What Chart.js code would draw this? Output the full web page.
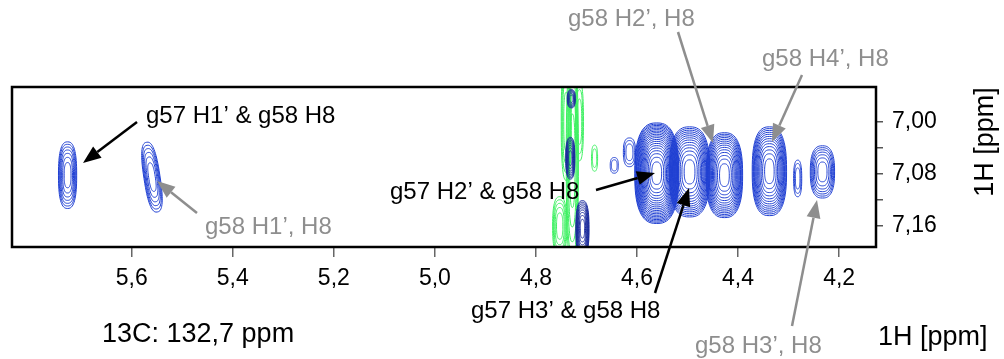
<!DOCTYPE html>
<html>
<head>
<meta charset="utf-8">
<script src="https://cdn.jsdelivr.net/npm/chart.js@4/dist/chart.umd.min.js"></script>
<style>
  html, body { margin: 0; padding: 0; background: #fff; }
</style>
</head>
<body>
<canvas id="hsqc" width="1004" height="359"></canvas>
<script>
// ============================================
// DATA: 1H/1H plane at 13C 132,7 ppm
// ============================================
const peakShiftX = [5.727, 5.560, 4.561, 4.496, 4.427, 4.338, 4.282, 4.233, 4.645, 4.615,
                    4.728, 4.740, 4.753, 4.684, 4.714, 4.730, 4.732, 4.708];
const peakShiftY = [7.082, 7.085, 7.079, 7.077, 7.082, 7.076, 7.087, 7.077, 7.067, 7.047,
                    7.060, 7.000, 7.160, 7.056, 7.000, 6.965, 7.056, 7.164];
const peakWidthX = [0.018, 0.016, 0.0435, 0.040, 0.036, 0.034, 0.008, 0.024, 0.008, 0.012,
                    0.012, 0.010, 0.014, 0.006, 0.008, 0.008, 0.009, 0.013];
const peakWidthY = [0.051, 0.054, 0.077, 0.069, 0.065, 0.068, 0.028, 0.040, 0.012, 0.022,
                    0.160, 0.090, 0.045, 0.020, 0.060, 0.014, 0.032, 0.043];
const peakLevels = [7, 6, 20, 14, 14, 13, 3, 7, 2, 3,
                    5, 4, 5, 2, 3, 6, 8, 9];
const peakTilt   = [0, -0.15, 0, 0, 0, 0, 0, 0, 0, 0,
                    0, 0, 0, 0, 0, 0, 0, 0];
// pos = main spectrum, neg = artefact (green), dense = strong solvent band
const peakKind   = ['pos', 'pos', 'pos', 'pos', 'pos', 'pos', 'pos', 'pos', 'pos', 'pos',
                    'neg', 'neg', 'neg', 'neg', 'neg', 'dense', 'dense', 'dense'];

const xTickValues = [5.6, 5.4, 5.2, 5.0, 4.8, 4.6, 4.4, 4.2];
const yTickValues = [7.00, 7.04, 7.08, 7.12, 7.16];
const yTickLabels = [7.00, 7.08, 7.16];

const xRange = [4.127, 5.837];
const yRange = [6.947, 7.192];

// ============================================
// STYLE
// ============================================
const FONT = "'Liberation Sans', Arial, Helvetica, sans-serif";
const kindColor = { pos: '#1f3fd2', neg: '#3cf060', dense: '#1a2a9c' };
const GREY = '#8e8e8e';
const SQUARENESS = 2.6;   // >2 gives the boxy contour look

// ============================================
// CONTOURS (drawn through the chart scales)
// ============================================
function contourPath(ctx, cx, cy, rx, ry, tilt) {
    const e = 2 / SQUARENESS;
    const c = Math.cos(tilt), s = Math.sin(tilt);
    ctx.beginPath();
    for (let j = 0; j <= 72; j++) {
        const t = (j / 72) * Math.PI * 2;
        const ct = Math.cos(t), st = Math.sin(t);
        const ux = rx * Math.sign(ct) * Math.pow(Math.abs(ct), e);
        const uy = ry * Math.sign(st) * Math.pow(Math.abs(st), e);
        const px = cx + ux * c - uy * s;
        const py = cy + ux * s + uy * c;
        if (j === 0) ctx.moveTo(px, py); else ctx.lineTo(px, py);
    }
    ctx.closePath();
}

const contourPlugin = {
    id: 'contours',
    afterDatasetsDraw(chart) {
        const { ctx, chartArea: a, scales: { x, y } } = chart;
        ctx.save();
        ctx.beginPath();
        ctx.rect(a.left, a.top, a.right - a.left, a.bottom - a.top);
        ctx.clip();
        ctx.lineWidth = 1;

        ['neg', 'pos', 'dense'].forEach(kind => {
            peakShiftX.forEach((px, i) => {
                if (peakKind[i] !== kind) return;
                const cx = x.getPixelForValue(px);
                const cy = y.getPixelForValue(peakShiftY[i]);
                const rx = Math.abs(x.getPixelForValue(px + peakWidthX[i]) - cx);
                const ry = Math.abs(y.getPixelForValue(peakShiftY[i] + peakWidthY[i]) - cy);
                const n = peakLevels[i];
                ctx.strokeStyle = kindColor[kind];
                for (let k = 0; k < n; k++) {
                    const f = Math.sqrt(1 - k / n);
                    contourPath(ctx, cx, cy, Math.max(rx * f, 0.6), Math.max(ry * f, 0.6), peakTilt[i]);
                    ctx.stroke();
                }
            });
        });
        ctx.restore();

        // frame
        ctx.save();
        ctx.strokeStyle = '#000';
        ctx.lineWidth = 2.5;
        ctx.strokeRect(a.left, a.top, a.right - a.left, a.bottom - a.top);
        ctx.restore();
    }
};

// ============================================
// LABELS & ARROWS
// ============================================
const annotations = [
    { text: 'g57 H1\u2019 & g58 H8', x: 146, y: 123, color: '#000', from: [137, 122], to: [83, 163] },
    { text: 'g58 H1\u2019, H8',      x: 205, y: 234, color: GREY,   from: [197, 213], to: [157, 181] },
    { text: 'g57 H2\u2019 & g58 H8', x: 390, y: 199, color: '#000', from: [596, 190], to: [655, 173] },
    { text: 'g57 H3\u2019 & g58 H8', x: 471, y: 318, color: '#000', from: [655, 293], to: [689, 188] },
    { text: 'g58 H2\u2019, H8',      x: 568, y: 26,  color: GREY,   from: [678, 32],  to: [713, 143] },
    { text: 'g58 H4\u2019, H8',      x: 762, y: 66,  color: GREY,   from: [802, 75],  to: [772, 142] },
    { text: 'g58 H3\u2019, H8',      x: 695, y: 353, color: GREY,   from: [792, 326], to: [817, 200] }
];

function drawArrow(ctx, from, to, color) {
    const [x1, y1] = from;
    const [x2, y2] = to;
    const ang = Math.atan2(y2 - y1, x2 - x1);
    const headLen = 18, headHalf = 7;
    const bx = x2 - headLen * Math.cos(ang);
    const by = y2 - headLen * Math.sin(ang);
    ctx.strokeStyle = color;
    ctx.fillStyle = color;
    ctx.lineWidth = 2.5;
    ctx.beginPath();
    ctx.moveTo(x1, y1);
    ctx.lineTo(bx, by);
    ctx.stroke();
    ctx.beginPath();
    ctx.moveTo(x2, y2);
    ctx.lineTo(bx + headHalf * Math.sin(ang), by - headHalf * Math.cos(ang));
    ctx.lineTo(bx - headHalf * Math.sin(ang), by + headHalf * Math.cos(ang));
    ctx.closePath();
    ctx.fill();
}

const labelPlugin = {
    id: 'labels',
    afterDraw(chart) {
        const { ctx } = chart;
        ctx.save();
        ctx.textBaseline = 'alphabetic';
        ctx.textAlign = 'left';

        annotations.forEach(a => {
            drawArrow(ctx, a.from, a.to, a.color);
            ctx.fillStyle = a.color;
            ctx.font = `24px ${FONT}`;
            ctx.fillText(a.text, a.x, a.y);
        });

        ctx.fillStyle = '#000';
        ctx.font = `27px ${FONT}`;
        ctx.fillText('13C: 132,7 ppm', 102, 342);
        ctx.fillText('1H [ppm]', 878, 345);

        // rotated 1H axis title on the right
        ctx.translate(993, 142);
        ctx.rotate(-Math.PI / 2);
        ctx.textAlign = 'center';
        ctx.fillText('1H [ppm]', 0, 0);
        ctx.restore();
    }
};

// ============================================
// CHART
// ============================================
new Chart(document.getElementById('hsqc'), {
    type: 'scatter',
    data: {
        datasets: [{
            data: peakShiftX.map((v, i) => ({ x: v, y: peakShiftY[i] })),
            pointRadius: 0
        }]
    },
    options: {
        responsive: false,
        animation: false,
        layout: { padding: { left: 12, top: 87, right: 0, bottom: 0 } },
        plugins: { legend: { display: false }, tooltip: { enabled: false } },
        scales: {
            x: {
                type: 'linear',
                reverse: true,
                min: xRange[0],
                max: xRange[1],
                afterBuildTicks: s => { s.ticks = xTickValues.map(v => ({ value: v })); },
                afterFit: s => { s.height = 112; },
                border: { display: false },
                grid: { drawOnChartArea: false, drawTicks: true, tickLength: 10, color: '#666', lineWidth: 1.5 },
                ticks: {
                    autoSkip: false, maxRotation: 0, padding: 8, color: '#000',
                    font: { family: FONT, size: 23 },
                    callback: v => v.toFixed(1).replace('.', ',')
                }
            },
            y: {
                type: 'linear',
                position: 'right',
                reverse: true,
                min: yRange[0],
                max: yRange[1],
                afterBuildTicks: s => { s.ticks = yTickValues.map(v => ({ value: v })); },
                afterFit: s => { s.width = 128; },
                border: { display: false },
                grid: { drawOnChartArea: false, drawTicks: true, tickLength: 7, color: '#555', lineWidth: 1.5 },
                ticks: {
                    autoSkip: false, padding: 9, color: '#000',
                    font: { family: FONT, size: 23 },
                    callback: v => yTickLabels.some(t => Math.abs(t - v) < 1e-6) ? v.toFixed(2).replace('.', ',') : ''
                }
            }
        }
    },
    plugins: [contourPlugin, labelPlugin]
});
</script>
</body>
</html>
